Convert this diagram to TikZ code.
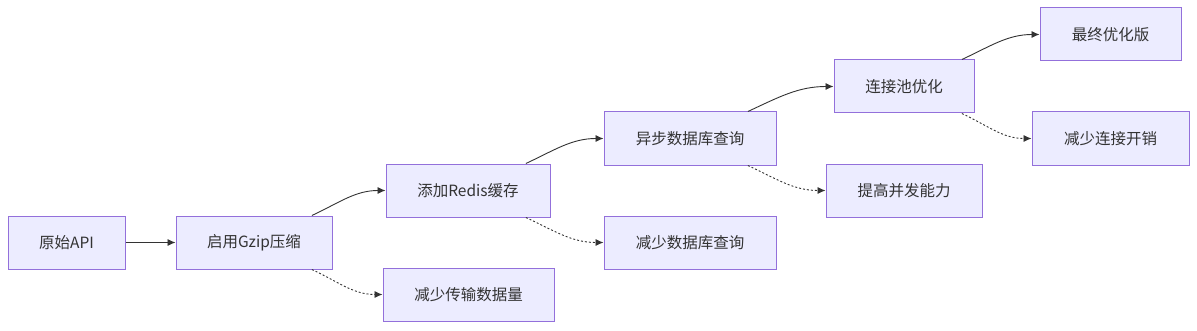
\documentclass[tikz,border=0pt]{standalone}
\usepackage{fontspec}
\setmainfont{Noto Sans CJK SC}
\usetikzlibrary{arrows.meta}
\definecolor{boxfill}{HTML}{ECECFF}
\definecolor{boxline}{HTML}{9370DB}
\definecolor{ink}{HTML}{333333}
\tikzset{
  box/.style={draw=boxline, fill=boxfill, line width=1pt, minimum height=53pt,
    inner sep=0pt, text=ink, font=\fontsize{15.5}{18}\selectfont},
  flow/.style={draw=ink, line width=0.9pt, -{Latex[length=8pt,width=7pt]}},
  gain/.style={flow, dash pattern=on 2pt off 2pt}
}
\begin{document}
\begin{tikzpicture}[x=1pt,y=1pt]
    \useasboundingbox (0,0) rectangle (1197,330);
    % Boxes
    \foreach \n/\x/\y/\w/\t in {
      api/66.5/87.5/117/原始API,
      gzip/254/87.5/156/启用Gzip压缩,
      lesstx/468.5/35.5/171/减少传输数据量,
      redis/468/139.5/164/添加Redis缓存,
      lessdb/690/87.5/172/减少数据库查询,
      async/690/191.5/172/异步数据库查询,
      conc/904/139.5/156/提高并发能力,
      pool/904/243.5/140/连接池优化,
      final/1110.5/295.5/141/最终优化版,
      lessconn/1110.5/191.5/157/减少连接开销}
    \node[box, minimum width=\w pt] (\n) at (\x,\y) {\t};
    % Main steps
    \draw[flow] (api.east) -- (gzip.west);
    \foreach \a/\b in {gzip/redis, redis/async, async/pool, pool/final}
    \draw[flow] (\a.25) to[out=25, in=180] (\b.west);
    % Side effects
    \foreach \a/\b in {gzip/lesstx, redis/lessdb, async/conc, pool/lessconn}
    \draw[gain] (\a.-25) to[out=-25, in=180] (\b.west);
  \end{tikzpicture}
\end{document}
